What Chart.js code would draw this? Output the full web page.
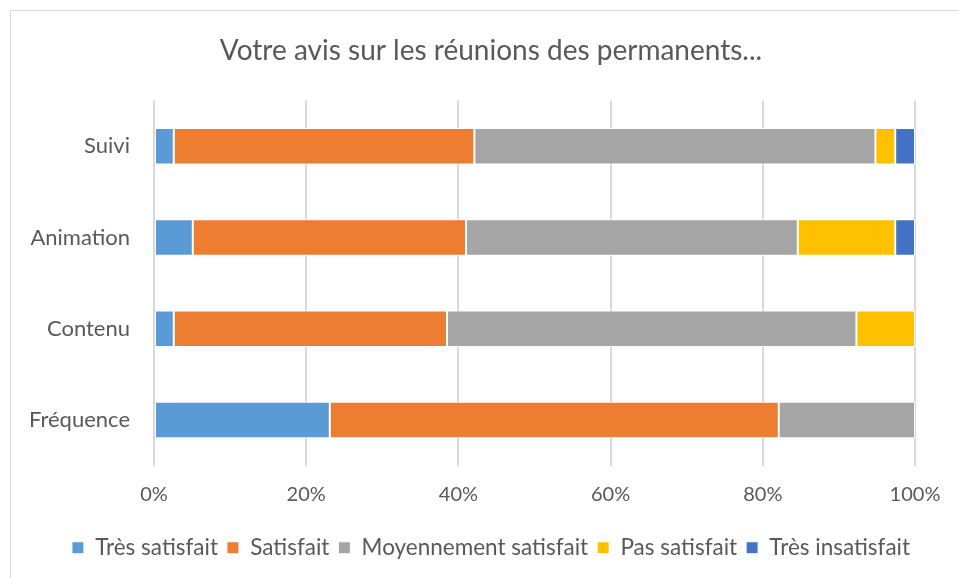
<!DOCTYPE html>
<html lang="fr">
<head>
<meta charset="utf-8">
<script src="https://cdn.jsdelivr.net/npm/chart.js@4.4.1/dist/chart.umd.min.js"></script>
<style>
  html,body{margin:0;padding:0;background:#fff;overflow:hidden;}
  #cadre{position:absolute;left:10px;top:10px;width:960px;height:580px;border:1px solid #d9d9d9;box-sizing:border-box;}
  #cadre canvas{position:absolute;left:0;top:0;}
</style>
</head>
<body>
<div id="cadre"><canvas id="chart" width="960" height="580"></canvas></div>
<script>
/* données (en %) */
const CATEGORIES = ["Suivi", "Animation", "Contenu", "Fréquence"];
const TRES_SATISFAIT   = [2.6, 5.1, 2.6, 23.1];
const SATISFAIT        = [39.5, 35.9, 35.9, 59.0];
const MOYEN_SATISFAIT  = [52.7, 43.6, 53.8, 17.9];
const PAS_SATISFAIT    = [2.6, 12.8, 7.7, 0];
const TRES_INSATISFAIT = [2.6, 2.6, 0, 0];
const X_TICKS = [0, 20, 40, 60, 80, 100];

const FONT = "Lato, 'Open Sans', sans-serif";
const GRIS = "#595959";

const series = [
  { label: "Très satisfait",         data: TRES_SATISFAIT,   color: "#5B9BD5" },
  { label: "Satisfait",              data: SATISFAIT,        color: "#ED7D31" },
  { label: "Moyennement satisfait",  data: MOYEN_SATISFAIT,  color: "#A5A5A5" },
  { label: "Pas satisfait",          data: PAS_SATISFAIT,    color: "#FFC000" },
  { label: "Très insatisfait",       data: TRES_INSATISFAIT, color: "#4472C4" }
];

new Chart(document.getElementById("chart"), {
  type: "bar",
  data: {
    labels: CATEGORIES,
    datasets: series.map(s => ({
      label: s.label,
      data: s.data,
      backgroundColor: s.color,
      borderColor: "#ffffff",
      borderWidth: 1,
      borderSkipped: false,
      categoryPercentage: 1,
      barPercentage: 0.4
    }))
  },
  options: {
    indexAxis: "y",
    responsive: false,
    animation: false,
    layout: { padding: { left: 0, right: 0, top: 0, bottom: 22 } },
    plugins: {
      title: {
        display: true,
        text: "Votre avis sur les réunions des permanents...",
        color: GRIS,
        font: { family: FONT, size: 28, weight: "normal" },
        padding: { top: 23, bottom: 33 }
      },
      legend: {
        position: "bottom",
        labels: {
          color: GRIS,
          font: { family: FONT, size: 22.5 },
          boxWidth: 12, boxHeight: 12,
          padding: 9
        }
      },
      tooltip: { enabled: false }
    },
    scales: {
      x: {
        stacked: true,
        min: 0, max: 100,
        afterBuildTicks: (ax) => { ax.ticks = X_TICKS.map(v => ({ value: v })); },
        afterFit: (ax) => { ax.height = 62; },
        ticks: {
          color: GRIS,
          font: { family: FONT, size: 20 },
          padding: 17,
          callback: (v) => v + "%"
        },
        grid: { color: "#d9d9d9", lineWidth: 2, drawTicks: false },
        border: { display: false }
      },
      y: {
        stacked: true,
        afterFit: (ax) => { ax.width = 143; },
        ticks: {
          color: GRIS,
          font: { family: FONT, size: 22 },
          padding: 24
        },
        grid: { display: false, drawTicks: false },
        border: { display: false }
      },
      // marge droite (axe vide) pour centrer titre et légende sur tout le cadre
      marge: {
        type: "linear",
        position: "right",
        afterFit: (ax) => { ax.width = 56; },
        ticks: { display: false },
        grid: { display: false, drawTicks: false },
        border: { display: false }
      }
    }
  }
});
</script>
</body>
</html>
